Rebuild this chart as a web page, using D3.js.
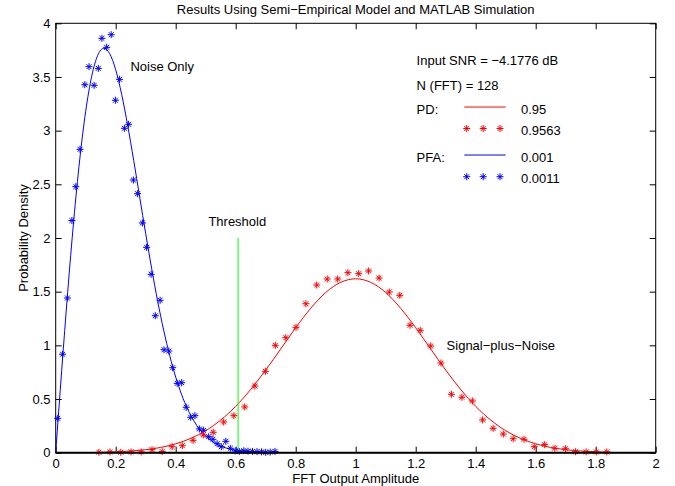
<!DOCTYPE html>
<html>
<head>
<meta charset="UTF-8">
<script src="https://d3js.org/d3.v7.min.js"></script>
<style>
  body { margin: 0; background: #fff; }
  text { font-family: "Liberation Sans", Arial, Helvetica, sans-serif; font-size: 13px; fill: #000; }
</style>
</head>
<body>
<div id="chart"></div>
<script>
// noise only: simulated histogram (stars) and model curve
var noiseX = [0.0067, 0.023, 0.039, 0.054, 0.067, 0.081, 0.097, 0.111, 0.128, 0.142,
  0.154, 0.170, 0.185, 0.199, 0.213, 0.229, 0.243, 0.259, 0.273, 0.289,
  0.303, 0.318, 0.332, 0.348, 0.361, 0.377, 0.390, 0.405, 0.420, 0.435,
  0.450, 0.464, 0.479, 0.493, 0.510, 0.524, 0.538, 0.552, 0.567, 0.582,
  0.598, 0.612, 0.627, 0.641, 0.656, 0.671, 0.686, 0.700, 0.715, 0.731];
var noiseY = [0.32, 0.917, 1.441, 2.163, 2.478, 2.826, 3.428, 3.596, 3.422, 3.58,
  3.86, 3.776, 3.894, 3.283, 3.478, 3.022, 3.059, 2.540, 2.413, 2.140,
  1.913, 1.662, 1.276, 1.42, 0.959, 0.947, 0.792, 0.646, 0.652, 0.423,
  0.330, 0.345, 0.221, 0.209, 0.149, 0.125, 0.084, 0.056, 0.106, 0.041,
  0.016, 0.012, 0.018, 0.014, 0.012, 0.010, 0.008, 0.004, 0.006, 0.012];
var noiseLineX = [0, 0.02, 0.04, 0.06, 0.08, 0.10, 0.12, 0.14, 0.16, 0.18, 0.20, 0.22, 0.24,
  0.26, 0.28, 0.30, 0.32, 0.34, 0.36, 0.38, 0.40, 0.42, 0.44, 0.46, 0.48, 0.50,
  0.52, 0.54, 0.56, 0.58, 0.60, 0.62, 0.64, 0.66, 0.68, 0.70, 0.72, 0.74];
var noiseLineY = [0, 0.766, 1.496, 2.160, 2.728, 3.181, 3.507, 3.701, 3.767, 3.717, 3.567, 3.337, 3.048,
  2.723, 2.381, 2.040, 1.714, 1.410, 1.140, 0.905, 0.705, 0.539, 0.405, 0.299, 0.217, 0.155,
  0.109, 0.075, 0.051, 0.034, 0.022, 0.014, 0.009, 0.005, 0.003, 0.002, 0.001, 0];

// signal plus noise
var sigX = [0.144, 0.181, 0.217, 0.251, 0.285, 0.321, 0.355, 0.388, 0.422, 0.458,
  0.492, 0.525, 0.560, 0.594, 0.630, 0.664, 0.699, 0.732, 0.767, 0.801,
  0.834, 0.870, 0.905, 0.940, 0.974, 1.010, 1.043, 1.078, 1.112, 1.147,
  1.181, 1.215, 1.250, 1.284, 1.319, 1.354, 1.389, 1.423, 1.458, 1.492,
  1.525, 1.561, 1.595, 1.630, 1.664, 1.699, 1.733, 1.768, 1.802, 1.837];
var sigY = [0.004, 0.007, 0.004, 0.007, 0.007, 0.028, 0.010, 0.056, 0.065, 0.115,
  0.165, 0.190, 0.286, 0.345, 0.426, 0.621, 0.758, 1.000, 1.071, 1.168,
  1.388, 1.562, 1.618, 1.618, 1.677, 1.668, 1.693, 1.627, 1.497, 1.466,
  1.187, 1.140, 0.994, 0.836, 0.544, 0.516, 0.482, 0.305, 0.227, 0.174,
  0.130, 0.125, 0.056, 0.075, 0.041, 0.037, 0.009, 0.007, 0.007, 0.007];
var sigLineX = [0.15, 0.20, 0.25, 0.30, 0.35, 0.40, 0.45, 0.50, 0.55, 0.60, 0.65, 0.70, 0.75,
  0.80, 0.85, 0.90, 0.95, 1.00, 1.05, 1.10, 1.15, 1.20, 1.25, 1.30, 1.35, 1.40,
  1.45, 1.50, 1.55, 1.60, 1.65, 1.70, 1.75, 1.80, 1.85];
var sigLineY = [0.004, 0.008, 0.016, 0.028, 0.049, 0.083, 0.133, 0.205, 0.304, 0.432, 0.589, 0.770, 0.966,
  1.164, 1.345, 1.492, 1.587, 1.620, 1.587, 1.492, 1.345, 1.164, 0.966, 0.770, 0.589, 0.432,
  0.304, 0.205, 0.133, 0.083, 0.049, 0.028, 0.016, 0.008, 0.004];

var threshold = 0.608;
var thresholdTop = 2;

var xTicks = [0, 0.2, 0.4, 0.6, 0.8, 1, 1.2, 1.4, 1.6, 1.8, 2];
var yTicks = [0, 0.5, 1, 1.5, 2, 2.5, 3, 3.5, 4];

var margin = {top: 23.3, right: 19.3, bottom: 33.3, left: 55.7},
    width = 675 - margin.left - margin.right,
    height = 486 - margin.top - margin.bottom;

var svg = d3.select("#chart")
  .append("svg")
    .attr("width", 675)
    .attr("height", 486)
  .append("g")
    .attr("transform", "translate(" + margin.left + "," + margin.top + ")");

var x = d3.scaleLinear().domain([0, 2]).range([0, width]);
var y = d3.scaleLinear().domain([0, 4]).range([height, 0]);

// axes, ticks inward on all four sides
svg.append("g")
  .attr("transform", "translate(0," + height + ")")
  .call(d3.axisBottom(x).tickValues(xTicks).tickFormat(d3.format("")).tickSizeInner(-6).tickSizeOuter(0).tickPadding(6))
  .call(g => g.select(".domain").remove());
svg.append("g")
  .call(d3.axisTop(x).tickValues(xTicks).tickFormat("").tickSizeInner(-6).tickSizeOuter(0))
  .call(g => g.select(".domain").remove());
svg.append("g")
  .call(d3.axisLeft(y).tickValues(yTicks).tickFormat(d3.format("")).tickSizeInner(-6).tickSizeOuter(0).tickPadding(5.2))
  .call(g => g.select(".domain").remove());
svg.append("g")
  .attr("transform", "translate(" + width + ",0)")
  .call(d3.axisRight(y).tickValues(yTicks).tickFormat("").tickSizeInner(-6).tickSizeOuter(0))
  .call(g => g.select(".domain").remove());

svg.selectAll(".tick text").style("font-size", "13px").style("font-family", "'Liberation Sans', Arial, sans-serif").attr("fill", "#000");
svg.selectAll(".tick line").attr("stroke", "#000");

svg.append("rect")
  .attr("width", width).attr("height", height)
  .attr("fill", "none").attr("stroke", "#000").attr("stroke-width", 1);

// asterisk marker
function star(r) {
  var a = r * 0.7;
  return "M" + (-r) + ",0L" + r + ",0M0," + (-r) + "L0," + r +
    "M" + (-a) + "," + (-a) + "L" + a + "," + a + "M" + (-a) + "," + a + "L" + a + "," + (-a);
}

var line = d3.line().x(d => x(d[0])).y(d => y(d[1])).curve(d3.curveMonotoneX);

svg.append("path")
  .datum(noiseLineX.map((v, i) => [v, noiseLineY[i]]))
  .attr("d", line).attr("fill", "none").attr("stroke", "#0000ff").attr("stroke-width", 1);
svg.append("path")
  .datum(sigLineX.map((v, i) => [v, sigLineY[i]]))
  .attr("d", line).attr("fill", "none").attr("stroke", "#ff0000").attr("stroke-width", 1);

svg.append("line")
  .attr("x1", x(threshold)).attr("x2", x(threshold))
  .attr("y1", y(0)).attr("y2", y(thresholdTop))
  .attr("stroke", "#00ff00").attr("stroke-width", 1);

svg.selectAll(".noisePt")
  .data(noiseX.map((v, i) => [v, noiseY[i]]))
  .enter().append("path")
    .attr("transform", d => "translate(" + x(d[0]) + "," + y(d[1]) + ")")
    .attr("d", star(3.5)).attr("fill", "none").attr("stroke", "#0000ff").attr("stroke-width", 1);
svg.selectAll(".sigPt")
  .data(sigX.map((v, i) => [v, sigY[i]]))
  .enter().append("path")
    .attr("transform", d => "translate(" + x(d[0]) + "," + y(d[1]) + ")")
    .attr("d", star(3.5)).attr("fill", "none").attr("stroke", "#ff0000").attr("stroke-width", 1);

// heavier x axis baseline
svg.append("line")
  .attr("x1", 0).attr("x2", width)
  .attr("y1", height).attr("y2", height)
  .attr("stroke", "#000").attr("stroke-width", 2);

// labels in data coordinates
var labels = [
  {x: 0.249, y: 3.556, t: "Noise Only"},
  {x: 0.509, y: 2.115, t: "Threshold"},
  {x: 1.303, y: 0.957, t: "Signal\u2212plus\u2212Noise"},
  {x: 1.203, y: 3.607, t: "Input SNR = \u22124.1776 dB"},
  {x: 1.203, y: 3.383, t: "N (FFT) = 128"},
  {x: 1.203, y: 3.158, t: "PD:"},
  {x: 1.551, y: 3.158, t: "0.95"},
  {x: 1.551, y: 2.959, t: "0.9563"},
  {x: 1.203, y: 2.708, t: "PFA:"},
  {x: 1.551, y: 2.708, t: "0.001"},
  {x: 1.551, y: 2.512, t: "0.0011"}
];
svg.selectAll(".lbl")
  .data(labels)
  .enter().append("text")
    .attr("x", d => x(d.x)).attr("y", d => y(d.y))
    .text(d => d.t);

// legend keys
var keyLines = [{y: 3.220, c: "#ff0000"}, {y: 2.773, c: "#0000ff"}];
svg.selectAll(".keyLine")
  .data(keyLines)
  .enter().append("line")
    .attr("x1", x(1.362)).attr("x2", x(1.5))
    .attr("y1", d => y(d.y)).attr("y2", d => y(d.y))
    .attr("stroke", d => d.c).attr("stroke-width", 1);
var keyStars = [];
[1.37, 1.425, 1.481].forEach(function(k) {
  keyStars.push({x: k, y: 3.020, c: "#ff0000"});
  keyStars.push({x: k, y: 2.571, c: "#0000ff"});
});
svg.selectAll(".keyStar")
  .data(keyStars)
  .enter().append("path")
    .attr("transform", d => "translate(" + x(d.x) + "," + y(d.y) + ")")
    .attr("d", star(3.5)).attr("fill", "none").attr("stroke", d => d.c).attr("stroke-width", 1);

// title and axis labels
svg.append("text")
  .attr("x", width / 2).attr("y", 14 - margin.top)
  .attr("text-anchor", "middle")
  .text("Results Using Semi\u2212Empirical Model and MATLAB Simulation");
svg.append("text")
  .attr("x", width / 2).attr("y", 483.3 - margin.top)
  .attr("text-anchor", "middle")
  .text("FFT Output Amplitude");
svg.append("text")
  .attr("transform", "translate(" + (27.5 - margin.left) + "," + (height / 2) + ") rotate(-90)")
  .attr("text-anchor", "middle")
  .text("Probability Density");
</script>
</body>
</html>
